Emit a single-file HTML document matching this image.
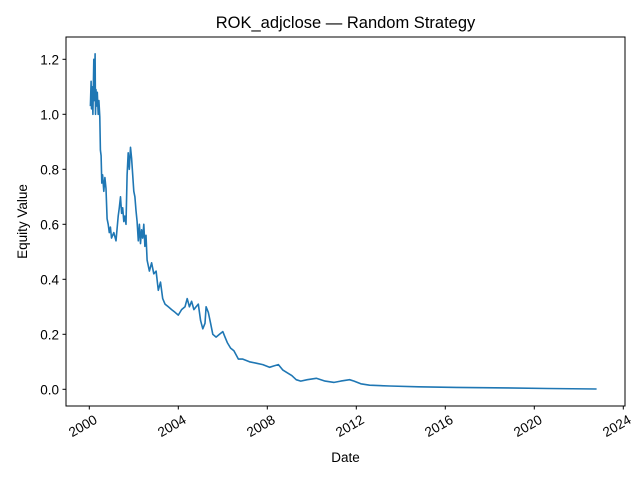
<!DOCTYPE html>
<html><head><meta charset="utf-8"><style>
body{margin:0;background:#fff}
svg{font-family:"Liberation Sans","DejaVu Sans",sans-serif}
</style></head><body>
<svg id="c" width="640" height="480">
<rect width="640" height="480" fill="#fff"/>
<text x="345.5" y="28" text-anchor="middle" font-size="16.5">ROK_adjclose — Random Strategy</text>
<g id="plot"></g>
<rect x="66" y="37" width="559" height="369" fill="none" stroke="#000" stroke-width="1"/>
<g id="xt"></g><g id="yt"></g>
<text x="345.5" y="462" text-anchor="middle" font-size="13.5">Date</text>
<text transform="translate(27,221.5) rotate(-90)" text-anchor="middle" font-size="13.5">Equity Value</text>
</svg>
<script>
const years=[2000.05,2000.08,2000.1,2000.13,2000.16,2000.2,2000.23,2000.26,2000.28,2000.3,2000.33,2000.36,2000.4,2000.43,2000.47,2000.5,2000.53,2000.56,2000.6,2000.65,2000.7,2000.75,2000.8,2000.85,2000.9,2000.95,2001.0,2001.1,2001.2,2001.3,2001.35,2001.4,2001.45,2001.5,2001.55,2001.6,2001.65,2001.7,2001.75,2001.8,2001.85,2001.9,2001.95,2002.0,2002.05,2002.1,2002.15,2002.2,2002.25,2002.3,2002.35,2002.4,2002.45,2002.5,2002.55,2002.6,2002.7,2002.8,2002.9,2003.0,2003.1,2003.2,2003.3,2003.4,2003.55,2003.7,2003.85,2004.0,2004.15,2004.3,2004.4,2004.5,2004.6,2004.7,2004.8,2004.9,2005.0,2005.1,2005.2,2005.25,2005.35,2005.45,2005.55,2005.7,2005.85,2006.0,2006.1,2006.2,2006.35,2006.5,2006.7,2006.9,2007.2,2007.5,2007.8,2008.1,2008.3,2008.5,2008.7,2008.9,2009.1,2009.3,2009.5,2009.8,2010.2,2010.6,2011.0,2011.3,2011.7,2011.9,2012.2,2012.6,2013.5,2014.8,2016.5,2018.8,2020.6,2022.8];
const values=[1.03,1.12,1.02,1.1,1.0,1.2,1.05,1.22,1.0,1.09,1.03,1.08,1.0,1.05,0.99,0.87,0.85,0.75,0.78,0.72,0.77,0.73,0.62,0.6,0.57,0.59,0.55,0.57,0.54,0.63,0.66,0.7,0.64,0.66,0.61,0.63,0.6,0.78,0.86,0.8,0.88,0.84,0.78,0.72,0.7,0.65,0.61,0.54,0.6,0.53,0.58,0.55,0.6,0.52,0.56,0.47,0.43,0.46,0.42,0.43,0.36,0.39,0.33,0.31,0.3,0.29,0.28,0.27,0.29,0.3,0.33,0.3,0.32,0.29,0.3,0.31,0.25,0.22,0.24,0.3,0.28,0.24,0.2,0.19,0.2,0.21,0.19,0.17,0.15,0.14,0.11,0.11,0.1,0.095,0.09,0.08,0.085,0.09,0.07,0.06,0.05,0.035,0.03,0.035,0.04,0.03,0.025,0.03,0.035,0.03,0.02,0.015,0.012,0.009,0.007,0.005,0.003,0.001];
const xTicks=[2000,2004,2008,2012,2016,2020,2024];
const yTicks=[0.0,0.2,0.4,0.6,0.8,1.0,1.2];
const NS="http://www.w3.org/2000/svg";
const X=y=>89.3+(y-2000)*22.25;
const Y=v=>389.3-v*275;
function mk(t,a){const e=document.createElementNS(NS,t);for(const k in a)e.setAttribute(k,a[k]);return e;}
const p=mk("polyline",{points:years.map((y,i)=>X(y).toFixed(1)+","+Y(values[i]).toFixed(1)).join(" "),fill:"none",stroke:"#1f77b4","stroke-width":"1.6","stroke-linejoin":"round"});


document.getElementById("plot").appendChild(p);
const xt=document.getElementById("xt");
xTicks.forEach(t=>{const x=X(t);
const l=mk("line",{x1:x,x2:x,y1:406,y2:409.5,stroke:"#000"});


xt.appendChild(l);
const tx=mk("text",{transform:`translate(${x+4},${414}) rotate(-30)`,"text-anchor":"end","font-size":"13.5","dominant-baseline":"hanging"});
tx.textContent=t;


xt.appendChild(tx);});
const yt=document.getElementById("yt");
yTicks.forEach(t=>{const y=Y(t);
const l=mk("line",{x1:62.5,x2:66,y1:y,y2:y,stroke:"#000"});


yt.appendChild(l);
const tx=mk("text",{x:59,y:y+5,"text-anchor":"end","font-size":"13.5"});
tx.textContent=t.toFixed(1);


yt.appendChild(tx);});
</script>
</body></html>
